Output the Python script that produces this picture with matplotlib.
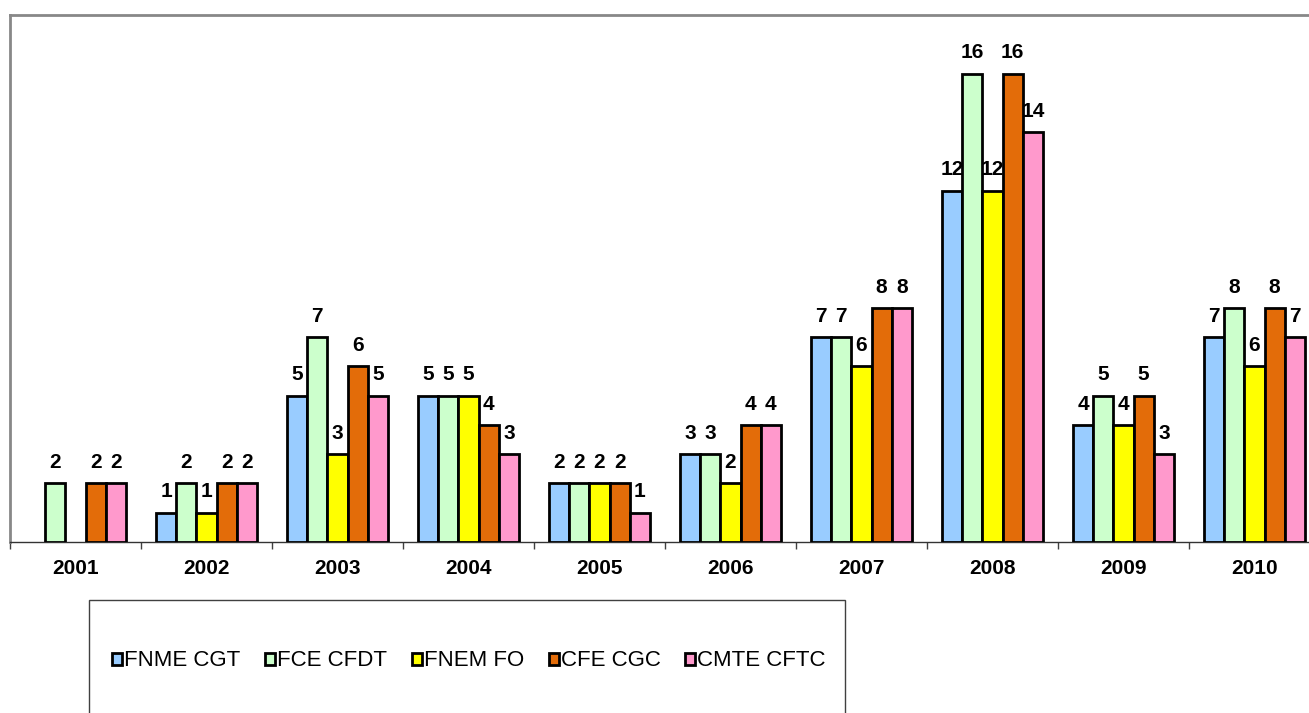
import matplotlib
matplotlib.use("Agg")
import matplotlib.pyplot as plt
import numpy as np
from matplotlib.patches import Rectangle, Patch

years = ["2001", "2002", "2003", "2004", "2005", "2006", "2007", "2008", "2009", "2010"]
series_names = ["FNME CGT", "FCE CFDT", "FNEM FO", "CFE CGC", "CMTE CFTC"]
fnme_cgt = [0, 1, 5, 5, 2, 3, 7, 12, 4, 7]
fce_cfdt = [2, 2, 7, 5, 2, 3, 7, 16, 5, 8]
fnem_fo = [0, 1, 3, 5, 2, 2, 6, 12, 4, 6]
cfe_cgc = [2, 2, 6, 4, 2, 4, 8, 16, 5, 8]
cmte_cftc = [2, 2, 5, 3, 1, 4, 8, 14, 3, 7]
colors = ["#99CCFF", "#CCFFCC", "#FFFF00", "#E36C09", "#FF99CC"]

all_series = [fnme_cgt, fce_cfdt, fnem_fo, cfe_cgc, cmte_cftc]

plt.rcParams['font.family'] = ['Liberation Sans', 'DejaVu Sans']

W, H = 1309, 713
fig = plt.figure(figsize=(W / 100, H / 100), dpi=100)
ax = fig.add_axes([10 / W, (H - 542) / H, 1310 / W, (542 - 15) / H])

x = np.arange(len(years))
bw = 0.154
handles = []
for i, (vals, name, col) in enumerate(zip(all_series, series_names, colors)):
    vals = np.array(vals, dtype=float)
    pos = x + (i - 2) * bw
    bars = ax.bar(pos, vals, width=bw, color=col, edgecolor="black", linewidth=2.0,
                  zorder=3)
    handles.append(Patch(facecolor=col, edgecolor="black", linewidth=2.0, label=name))
    for b, v, p in zip(bars, vals, pos):
        if v == 0:
            b.set_visible(False)
            continue
        ax.annotate(f"{int(v)}", (p, v), xytext=(0, 11), textcoords="offset points",
                    ha="center", va="baseline", fontsize=15, fontweight="bold",
                    color="black", zorder=4)

ax.set_xlim(-0.5, len(years) - 0.5)
ax.set_ylim(0, 18)
ax.set_yticks([])
ax.set_xticks(x)
ax.set_xticklabels(years, fontsize=15, fontweight="bold")
ax.set_xticks(np.arange(-0.5, len(years) + 0.5, 1.0), minor=True)
ax.tick_params(axis="x", which="major", length=0, pad=12)
ax.tick_params(axis="x", which="minor", length=5, width=1, color="#404040", direction="out")

for s in ["left", "top"]:
    ax.spines[s].set_color("#888888")
    ax.spines[s].set_linewidth(2)
ax.spines["right"].set_visible(False)
ax.spines["bottom"].set_color("#333333")
ax.spines["bottom"].set_linewidth(1)

# legend frame
fig.add_artist(Rectangle((89 / W, -0.05), (845 - 89) / W, (H - 600) / H + 0.05,
                         transform=fig.transFigure, facecolor="white",
                         edgecolor="#404040", linewidth=1))

leg = fig.legend(handles=handles, loc="center left", bbox_to_anchor=(112 / W, 1 - 661 / H),
                 ncol=5, frameon=False, fontsize=16, handlelength=0.45, handleheight=0.45,
                 handletextpad=0.1, columnspacing=1.1, borderaxespad=0, borderpad=0)

fig.savefig("out.png", dpi=100, facecolor="white")
